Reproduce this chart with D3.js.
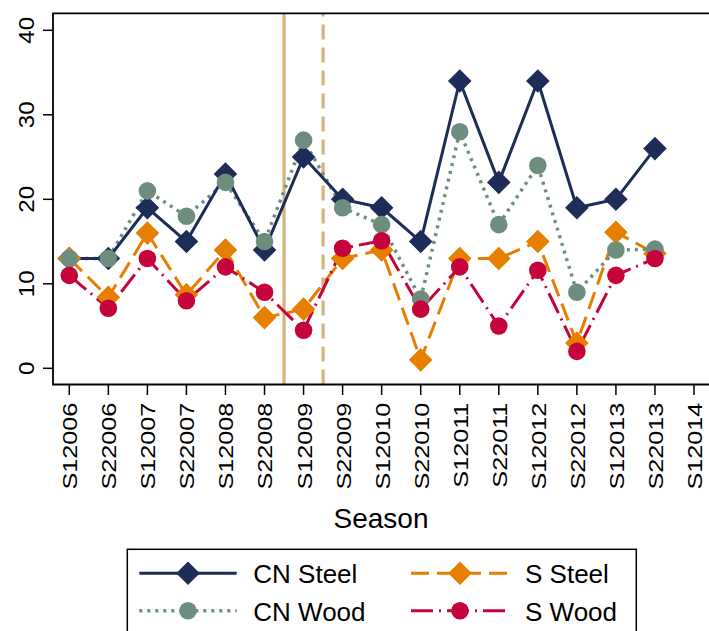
<!DOCTYPE html>
<html>
<head>
<meta charset="utf-8">
<script src="https://cdn.jsdelivr.net/npm/d3@7"></script>
<style>
  html, body { margin: 0; padding: 0; background: #fff; }
  svg { display: block; font-family: "Liberation Sans", Arial, Helvetica, sans-serif; }
</style>
</head>
<body>
<svg id="chart" width="709" height="631"></svg>
<script>
const seasons = ["S12006","S22006","S12007","S22007","S12008","S22008","S12009","S22009",
                 "S12010","S22010","S12011","S22011","S12012","S22012","S12013","S22013","S12014"];
const cnSteel = [13, 13, 19, 15, 23, 14, 25, 20, 19, 15, 34, 22, 34, 19, 20, 26, null];
const cnWood  = [13, 13, 21, 18, 22, 15, 27, 19, 17, 8.2, 28, 17, 24, 9, 14, 14.1, null];
const sSteel  = [13, 8.4, 16, 8.7, 14, 6, 7, 13, 14, 1, 13, 13, 15, 3, 16.1, 13.6, null];
const sWood   = [11, 7.1, 13, 8, 12, 9, 4.5, 14.2, 15.1, 7, 12, 5, 11.6, 2, 11, 13, null];
const yTicks = [0, 10, 20, 30, 40];
const xLines = [["S22008","S12009","solid"], ["S12009","S22009","dash"]];
const seriesNames = ["CN Steel", "CN Wood", "S Steel", "S Wood"];

const svg = d3.select("#chart");
const W = 709, H = 631;
const plot = {left: 53, right: 710, top: 13.3, bottom: 384.5};

const x = d3.scalePoint().domain(seasons).range([69.3, 694]);
const y = d3.scaleLinear().domain([0, 40]).range([368.3, 30.3]);

const colors = {
  "CN Steel": "#1e2d57",
  "CN Wood": "#6d8e7f",
  "S Steel": "#e67e00",
  "S Wood": "#c5043b"
};
const series = [
  {name: "CN Steel", values: cnSteel, marker: "diamond", dash: null, width: 3},
  {name: "CN Wood", values: cnWood, marker: "circle", dash: "3,5", width: 3.5},
  {name: "S Steel", values: sSteel, marker: "diamond", dash: "18,8", width: 3},
  {name: "S Wood", values: sWood, marker: "circle", dash: "22,6,2,6", width: 3}
];

// reference lines (behind)
const tan = "#d3b47e";
xLines.forEach(([a, b, style]) => {
  const xv = (x(a) + x(b)) / 2;
  svg.append("line")
    .attr("x1", xv).attr("x2", xv)
    .attr("y1", plot.bottom).attr("y2", plot.top)
    .attr("stroke", tan).attr("stroke-width", 3.2)
    .attr("stroke-dasharray", style === "dash" ? "15,8" : null);
});

// lines
const lineGen = d3.line()
  .defined(d => d.v !== null)
  .x(d => x(d.s)).y(d => y(d.v));
const lineOrder = ["S Steel", "CN Wood", "CN Steel", "S Wood"];
lineOrder.forEach(nm => {
  const s = series.find(z => z.name === nm);
  const data = seasons.map((sv, i) => ({s: sv, v: s.values[i]}));
  svg.append("path")
    .datum(data)
    .attr("d", lineGen)
    .attr("fill", "none")
    .attr("stroke", colors[nm])
    .attr("stroke-width", s.width)
    .attr("stroke-linejoin", "round")
    .attr("stroke-dasharray", s.dash);
});

function drawMarker(g, type, cx, cy, color) {
  if (type === "diamond") {
    const r = 11.8;
    g.append("path")
      .attr("d", `M${cx},${cy - r}L${cx + r},${cy}L${cx},${cy + r}L${cx - r},${cy}Z`)
      .attr("fill", color);
  } else {
    g.append("circle").attr("cx", cx).attr("cy", cy).attr("r", 8.8).attr("fill", color);
  }
}

// markers
const markerOrder = ["CN Steel", "S Steel", "CN Wood", "S Wood"];
const mg = svg.append("g");
markerOrder.forEach(nm => {
  const s = series.find(z => z.name === nm);
  seasons.forEach((sv, i) => {
    const v = s.values[i];
    if (v === null) return;
    drawMarker(mg, s.marker, x(sv), y(v), colors[nm]);
  });
});

// frame
const axisColor = "#000";
svg.append("path")
  .attr("d", `M${plot.right},${plot.top}L${plot.left},${plot.top}L${plot.left},${plot.bottom}L${plot.right},${plot.bottom}`)
  .attr("fill", "none").attr("stroke", axisColor).attr("stroke-width", 1.8);

// y axis ticks + labels
yTicks.forEach(t => {
  svg.append("line")
    .attr("x1", plot.left - 10).attr("x2", plot.left)
    .attr("y1", y(t)).attr("y2", y(t))
    .attr("stroke", axisColor).attr("stroke-width", 1.5);
  svg.append("text")
    .attr("transform", `translate(25.8,${y(t)}) rotate(-90) scale(1.12,1)`)
    .attr("text-anchor", "middle")
    .attr("dy", "0.358em")
    .attr("font-size", 21.5)
    .attr("fill", "#000")
    .text(t);
});

// x axis ticks + labels
seasons.forEach(sv => {
  svg.append("line")
    .attr("x1", x(sv)).attr("x2", x(sv))
    .attr("y1", plot.bottom).attr("y2", plot.bottom + 10.5)
    .attr("stroke", axisColor).attr("stroke-width", 1.5);
  svg.append("text")
    .attr("transform", `translate(${x(sv) + 0.8},402.7) rotate(-90) scale(1.26,1)`)
    .attr("text-anchor", "end")
    .attr("dy", "0.358em")
    .attr("font-size", 20)
    .attr("fill", "#000")
    .text(sv);
});

// axis title
svg.append("text")
  .attr("x", 381).attr("y", 528)
  .attr("text-anchor", "middle")
  .attr("font-size", 28)
  .attr("fill", "#000")
  .text("Season");

// legend
const lg = svg.append("g");
lg.append("rect")
  .attr("x", 127.3).attr("y", 549.3)
  .attr("width", 636.3 - 127.3).attr("height", 120)
  .attr("fill", "#fff").attr("stroke", "#000").attr("stroke-width", 1.5);
const legendPos = {
  "CN Steel": {x0: 139.3, x1: 236.7, m: 188, tx: 253.3, y: 573.3},
  "CN Wood":  {x0: 139.3, x1: 236.7, m: 188, tx: 253.3, y: 610.7},
  "S Steel":  {x0: 411, x1: 509, m: 460, tx: 525, y: 573.3},
  "S Wood":   {x0: 411, x1: 509, m: 460, tx: 525, y: 610.7}
};
series.forEach(s => {
  const p = legendPos[s.name];
  lg.append("line")
    .attr("x1", p.x0).attr("x2", p.x1).attr("y1", p.y).attr("y2", p.y)
    .attr("stroke", colors[s.name]).attr("stroke-width", s.width)
    .attr("stroke-dasharray", s.dash);
  drawMarker(lg, s.marker, p.m, p.y, colors[s.name]);
  lg.append("text")
    .attr("x", p.tx).attr("y", p.y + 10)
    .attr("font-size", 26)
    .attr("fill", "#000")
    .text(s.name);
});
</script>
</body>
</html>
